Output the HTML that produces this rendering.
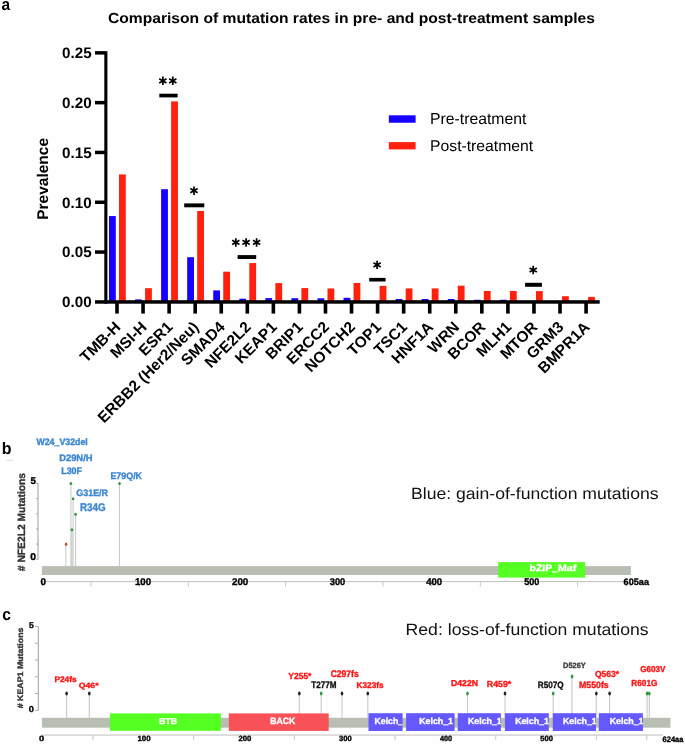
<!DOCTYPE html>
<html><head><meta charset="utf-8"><style>
html,body{margin:0;padding:0;background:#fefefe;}
svg{display:block;font-family:"Liberation Sans", sans-serif;will-change:transform;text-rendering:geometricPrecision;}
</style></head><body>
<svg width="685" height="744" viewBox="0 0 685 744">
<text x="1.57" y="9.90" font-size="16.74" font-weight="bold" fill="#000" textLength="8.63" lengthAdjust="spacingAndGlyphs" >a</text>
<text x="108" y="23.2" font-size="14.6" font-weight="bold" textLength="487" lengthAdjust="spacingAndGlyphs">Comparison of mutation rates in pre- and post-treatment samples</text>
<rect x="109.00" y="216.06" width="6.80" height="85.94" fill="#1700ff"/>
<rect x="119.00" y="174.45" width="6.80" height="127.55" fill="#ff200e"/>
<rect x="135.06" y="299.40" width="6.80" height="2.60" fill="#1700ff"/>
<rect x="145.06" y="288.20" width="6.80" height="13.80" fill="#ff200e"/>
<rect x="161.12" y="189.20" width="6.80" height="112.80" fill="#1700ff"/>
<rect x="171.12" y="101.40" width="6.80" height="200.60" fill="#ff200e"/>
<rect x="187.18" y="257.20" width="6.80" height="44.80" fill="#1700ff"/>
<rect x="197.18" y="211.00" width="6.80" height="91.00" fill="#ff200e"/>
<rect x="213.24" y="290.40" width="6.80" height="11.60" fill="#1700ff"/>
<rect x="223.24" y="271.70" width="6.80" height="30.30" fill="#ff200e"/>
<rect x="239.30" y="298.70" width="6.80" height="3.30" fill="#1700ff"/>
<rect x="249.30" y="263.05" width="6.80" height="38.95" fill="#ff200e"/>
<rect x="265.36" y="298.10" width="6.80" height="3.90" fill="#1700ff"/>
<rect x="275.36" y="283.10" width="6.80" height="18.90" fill="#ff200e"/>
<rect x="291.42" y="298.20" width="6.80" height="3.80" fill="#1700ff"/>
<rect x="301.42" y="288.10" width="6.80" height="13.90" fill="#ff200e"/>
<rect x="317.48" y="298.30" width="6.80" height="3.70" fill="#1700ff"/>
<rect x="327.48" y="288.50" width="6.80" height="13.50" fill="#ff200e"/>
<rect x="343.54" y="297.80" width="6.80" height="4.20" fill="#1700ff"/>
<rect x="353.54" y="283.00" width="6.80" height="19.00" fill="#ff200e"/>
<rect x="379.60" y="285.90" width="6.80" height="16.10" fill="#ff200e"/>
<rect x="395.66" y="299.00" width="6.80" height="3.00" fill="#1700ff"/>
<rect x="405.66" y="288.40" width="6.80" height="13.60" fill="#ff200e"/>
<rect x="421.72" y="299.00" width="6.80" height="3.00" fill="#1700ff"/>
<rect x="431.72" y="288.40" width="6.80" height="13.60" fill="#ff200e"/>
<rect x="447.78" y="299.00" width="6.80" height="3.00" fill="#1700ff"/>
<rect x="457.78" y="285.70" width="6.80" height="16.30" fill="#ff200e"/>
<rect x="473.84" y="299.80" width="6.80" height="2.20" fill="#1700ff"/>
<rect x="483.84" y="291.00" width="6.80" height="11.00" fill="#ff200e"/>
<rect x="499.90" y="299.80" width="6.80" height="2.20" fill="#1700ff"/>
<rect x="509.90" y="291.00" width="6.80" height="11.00" fill="#ff200e"/>
<rect x="535.96" y="291.10" width="6.80" height="10.90" fill="#ff200e"/>
<rect x="562.02" y="296.20" width="6.80" height="5.80" fill="#ff200e"/>
<rect x="588.08" y="296.90" width="6.80" height="5.10" fill="#ff200e"/>
<rect x="104.30" y="51.20" width="3.10" height="252.50" fill="#000"/>
<rect x="95.00" y="300.20" width="504.70" height="3.50" fill="#000"/>
<rect x="95.00" y="51.10" width="10.00" height="3.50" fill="#000"/>
<rect x="95.00" y="100.90" width="10.00" height="3.50" fill="#000"/>
<rect x="95.00" y="150.70" width="10.00" height="3.50" fill="#000"/>
<rect x="95.00" y="200.50" width="10.00" height="3.50" fill="#000"/>
<rect x="95.00" y="250.30" width="10.00" height="3.50" fill="#000"/>
<rect x="115.20" y="302.00" width="3.60" height="11.60" fill="#000"/>
<rect x="141.26" y="302.00" width="3.60" height="11.60" fill="#000"/>
<rect x="167.32" y="302.00" width="3.60" height="11.60" fill="#000"/>
<rect x="193.38" y="302.00" width="3.60" height="11.60" fill="#000"/>
<rect x="219.44" y="302.00" width="3.60" height="11.60" fill="#000"/>
<rect x="245.50" y="302.00" width="3.60" height="11.60" fill="#000"/>
<rect x="271.56" y="302.00" width="3.60" height="11.60" fill="#000"/>
<rect x="297.62" y="302.00" width="3.60" height="11.60" fill="#000"/>
<rect x="323.68" y="302.00" width="3.60" height="11.60" fill="#000"/>
<rect x="349.74" y="302.00" width="3.60" height="11.60" fill="#000"/>
<rect x="375.80" y="302.00" width="3.60" height="11.60" fill="#000"/>
<rect x="401.86" y="302.00" width="3.60" height="11.60" fill="#000"/>
<rect x="427.92" y="302.00" width="3.60" height="11.60" fill="#000"/>
<rect x="453.98" y="302.00" width="3.60" height="11.60" fill="#000"/>
<rect x="480.04" y="302.00" width="3.60" height="11.60" fill="#000"/>
<rect x="506.10" y="302.00" width="3.60" height="11.60" fill="#000"/>
<rect x="532.16" y="302.00" width="3.60" height="11.60" fill="#000"/>
<rect x="558.22" y="302.00" width="3.60" height="11.60" fill="#000"/>
<rect x="584.28" y="302.00" width="3.60" height="11.60" fill="#000"/>
<text x="91.60" y="58.25" font-size="15.2" font-weight="bold" fill="#000" text-anchor="end" >0.25</text>
<text x="91.60" y="108.05" font-size="15.2" font-weight="bold" fill="#000" text-anchor="end" >0.20</text>
<text x="91.60" y="157.85" font-size="15.2" font-weight="bold" fill="#000" text-anchor="end" >0.15</text>
<text x="91.60" y="207.65" font-size="15.2" font-weight="bold" fill="#000" text-anchor="end" >0.10</text>
<text x="91.60" y="257.45" font-size="15.2" font-weight="bold" fill="#000" text-anchor="end" >0.05</text>
<text x="91.60" y="307.25" font-size="15.2" font-weight="bold" fill="#000" text-anchor="end" >0.00</text>
<text x="0" y="0" font-size="15.5" font-weight="bold" text-anchor="middle" transform="translate(48.1 178.9) rotate(-90)">Prevalence</text>
<text x="0" y="0" font-size="15.5" font-weight="bold" text-anchor="end" transform="translate(121.50 328.00) rotate(-45)">TMB-H</text>
<text x="0" y="0" font-size="15.5" font-weight="bold" text-anchor="end" transform="translate(147.56 328.00) rotate(-45)">MSI-H</text>
<text x="0" y="0" font-size="15.5" font-weight="bold" text-anchor="end" transform="translate(173.62 328.00) rotate(-45)">ESR1</text>
<text x="0" y="0" font-size="15.5" font-weight="bold" text-anchor="end" transform="translate(199.68 328.00) rotate(-45)">ERBB2 (Her2/Neu)</text>
<text x="0" y="0" font-size="15.5" font-weight="bold" text-anchor="end" transform="translate(225.74 328.00) rotate(-45)">SMAD4</text>
<text x="0" y="0" font-size="15.5" font-weight="bold" text-anchor="end" transform="translate(251.80 328.00) rotate(-45)">NFE2L2</text>
<text x="0" y="0" font-size="15.5" font-weight="bold" text-anchor="end" transform="translate(277.86 328.00) rotate(-45)">KEAP1</text>
<text x="0" y="0" font-size="15.5" font-weight="bold" text-anchor="end" transform="translate(303.92 328.00) rotate(-45)">BRIP1</text>
<text x="0" y="0" font-size="15.5" font-weight="bold" text-anchor="end" transform="translate(329.98 328.00) rotate(-45)">ERCC2</text>
<text x="0" y="0" font-size="15.5" font-weight="bold" text-anchor="end" transform="translate(356.04 328.00) rotate(-45)">NOTCH2</text>
<text x="0" y="0" font-size="15.5" font-weight="bold" text-anchor="end" transform="translate(382.10 328.00) rotate(-45)">TOP1</text>
<text x="0" y="0" font-size="15.5" font-weight="bold" text-anchor="end" transform="translate(408.16 328.00) rotate(-45)">TSC1</text>
<text x="0" y="0" font-size="15.5" font-weight="bold" text-anchor="end" transform="translate(434.22 328.00) rotate(-45)">HNF1A</text>
<text x="0" y="0" font-size="15.5" font-weight="bold" text-anchor="end" transform="translate(460.28 328.00) rotate(-45)">WRN</text>
<text x="0" y="0" font-size="15.5" font-weight="bold" text-anchor="end" transform="translate(486.34 328.00) rotate(-45)">BCOR</text>
<text x="0" y="0" font-size="15.5" font-weight="bold" text-anchor="end" transform="translate(512.40 328.00) rotate(-45)">MLH1</text>
<text x="0" y="0" font-size="15.5" font-weight="bold" text-anchor="end" transform="translate(538.46 328.00) rotate(-45)">MTOR</text>
<text x="0" y="0" font-size="15.5" font-weight="bold" text-anchor="end" transform="translate(564.52 328.00) rotate(-45)">GRM3</text>
<text x="0" y="0" font-size="15.5" font-weight="bold" text-anchor="end" transform="translate(590.58 328.00) rotate(-45)">BMPR1A</text>
<rect x="159.30" y="93.70" width="18.30" height="3.70" fill="#000"/>
<path d="M162.85 85.00L162.85 76.60M159.21 82.90L166.49 78.70M159.21 78.70L166.49 82.90" stroke="#000" stroke-width="1.7" fill="none"/>
<path d="M172.80 85.00L172.80 76.60M169.16 82.90L176.44 78.70M169.16 78.70L176.44 82.90" stroke="#000" stroke-width="1.7" fill="none"/>
<rect x="184.20" y="203.40" width="20.10" height="3.90" fill="#000"/>
<path d="M194.00 194.90L194.00 186.50M190.36 192.80L197.64 188.60M190.36 188.60L197.64 192.80" stroke="#000" stroke-width="1.7" fill="none"/>
<rect x="237.60" y="255.10" width="18.60" height="3.90" fill="#000"/>
<path d="M235.80 246.65L235.80 238.25M232.16 244.55L239.44 240.35M232.16 240.35L239.44 244.55" stroke="#000" stroke-width="1.7" fill="none"/>
<path d="M246.10 246.65L246.10 238.25M242.46 244.55L249.74 240.35M242.46 240.35L249.74 244.55" stroke="#000" stroke-width="1.7" fill="none"/>
<path d="M256.60 246.65L256.60 238.25M252.96 244.55L260.24 240.35M252.96 240.35L260.24 244.55" stroke="#000" stroke-width="1.7" fill="none"/>
<rect x="369.20" y="277.90" width="16.40" height="3.60" fill="#000"/>
<path d="M377.10 269.10L377.10 260.70M373.46 267.00L380.74 262.80M373.46 262.80L380.74 267.00" stroke="#000" stroke-width="1.7" fill="none"/>
<rect x="525.10" y="282.80" width="16.80" height="4.00" fill="#000"/>
<path d="M533.20 274.20L533.20 265.80M529.56 272.10L536.84 267.90M529.56 267.90L536.84 272.10" stroke="#000" stroke-width="1.7" fill="none"/>
<rect x="388.85" y="115.30" width="26.75" height="7.45" fill="#1700ff"/>
<rect x="388.85" y="142.10" width="26.75" height="7.30" fill="#ff200e"/>
<text x="430.04" y="124.30" font-size="15.85" font-weight="normal" fill="#000" textLength="96.25" lengthAdjust="spacingAndGlyphs" >Pre-treatment</text>
<text x="430.04" y="150.90" font-size="15.56" font-weight="normal" fill="#000" textLength="103.15" lengthAdjust="spacingAndGlyphs" >Post-treatment</text>
<rect x="6" y="459.9" width="7" height="1" fill="#e2e2e2"/>
<text x="1.81" y="454.05" font-size="16.62" font-weight="bold" fill="#000" textLength="9.80" lengthAdjust="spacingAndGlyphs" >b</text>
<rect x="37.5" y="483.0" width="1" height="76.7" fill="#a0a0a0"/>
<rect x="36.0" y="558.75" width="2" height="0.9" fill="#a0a0a0"/>
<rect x="36.0" y="543.61" width="2" height="0.9" fill="#a0a0a0"/>
<rect x="36.0" y="528.47" width="2" height="0.9" fill="#a0a0a0"/>
<rect x="36.0" y="513.33" width="2" height="0.9" fill="#a0a0a0"/>
<rect x="36.0" y="498.19" width="2" height="0.9" fill="#a0a0a0"/>
<rect x="36.0" y="483.05" width="2" height="0.9" fill="#a0a0a0"/>
<text x="30.55" y="483.80" font-size="9.89" font-weight="bold" fill="#000" textLength="5.36" lengthAdjust="spacingAndGlyphs" stroke="#000" stroke-width="0.35" stroke-linejoin="round" >5</text>
<text x="30.31" y="559.80" font-size="9.89" font-weight="bold" fill="#000" textLength="5.75" lengthAdjust="spacingAndGlyphs" stroke="#000" stroke-width="0.35" stroke-linejoin="round" >0</text>
<text x="0" y="0" font-size="10.47" font-weight="bold" fill="#333" textLength="98.16" lengthAdjust="spacingAndGlyphs" stroke="#333" stroke-width="0.35" stroke-linejoin="round" transform="translate(25.10 571.15) rotate(-90)"># NFE2L2 Mutations</text>
<rect x="65.30" y="544.20" width="1.0" height="21.90" fill="#a4a99f" fill-opacity="0.6"/>
<rect x="70.40" y="483.40" width="1.0" height="82.70" fill="#a4a99f" fill-opacity="0.6"/>
<rect x="72.60" y="498.80" width="1.0" height="67.30" fill="#a4a99f" fill-opacity="0.6"/>
<rect x="75.10" y="514.30" width="1.0" height="51.80" fill="#a4a99f" fill-opacity="0.6"/>
<rect x="71.40" y="529.70" width="1.0" height="36.40" fill="#a4a99f" fill-opacity="0.6"/>
<rect x="119.00" y="483.40" width="1.0" height="82.70" fill="#a4a99f" fill-opacity="0.6"/>
<ellipse cx="66.10" cy="544.20" rx="1.2" ry="1.8" fill="#c0522a"/>
<ellipse cx="70.90" cy="483.40" rx="1.35" ry="1.5" fill="#2f9a3a"/>
<ellipse cx="73.10" cy="498.80" rx="1.35" ry="1.5" fill="#2f9a3a"/>
<ellipse cx="75.60" cy="514.30" rx="1.35" ry="1.5" fill="#2f9a3a"/>
<ellipse cx="71.90" cy="529.70" rx="1.35" ry="1.5" fill="#2f9a3a"/>
<ellipse cx="119.50" cy="483.40" rx="1.35" ry="1.5" fill="#2f9a3a"/>
<rect x="41.90" y="566.10" width="589.00" height="8.90" fill="#b9beb3"/>
<rect x="498.20" y="562.10" width="86.90" height="15.50" fill="#55ff22"/>
<text x="529.52" y="570.70" font-size="9.10" font-weight="bold" fill="#fff" textLength="46.66" lengthAdjust="spacingAndGlyphs" stroke="#fff" stroke-width="0.35" stroke-linejoin="round" >bZIP_Maf</text>
<rect x="42.3" y="581.0" width="581.5" height="1.1" fill="#c4c4c4"/>
<rect x="41.85" y="582" width="0.9" height="4.6" fill="#c4c4c4"/>
<rect x="90.52" y="582" width="0.9" height="4.6" fill="#c4c4c4"/>
<rect x="139.18" y="582" width="0.9" height="4.6" fill="#c4c4c4"/>
<rect x="187.85" y="582" width="0.9" height="4.6" fill="#c4c4c4"/>
<rect x="236.51" y="582" width="0.9" height="4.6" fill="#c4c4c4"/>
<rect x="285.18" y="582" width="0.9" height="4.6" fill="#c4c4c4"/>
<rect x="333.84" y="582" width="0.9" height="4.6" fill="#c4c4c4"/>
<rect x="382.51" y="582" width="0.9" height="4.6" fill="#c4c4c4"/>
<rect x="431.17" y="582" width="0.9" height="4.6" fill="#c4c4c4"/>
<rect x="479.84" y="582" width="0.9" height="4.6" fill="#c4c4c4"/>
<rect x="528.50" y="582" width="0.9" height="4.6" fill="#c4c4c4"/>
<rect x="577.16" y="582" width="0.9" height="4.6" fill="#c4c4c4"/>
<rect x="625.83" y="582" width="0.9" height="4.6" fill="#c4c4c4"/>
<rect x="630.15" y="582" width="0.9" height="4.6" fill="#c4c4c4"/>
<text x="40.43" y="584.90" font-size="9.75" font-weight="bold" fill="#000" textLength="5.45" lengthAdjust="spacingAndGlyphs" stroke="#000" stroke-width="0.35" stroke-linejoin="round" >0</text>
<text x="134.89" y="584.90" font-size="9.75" font-weight="bold" fill="#000" textLength="16.18" lengthAdjust="spacingAndGlyphs" stroke="#000" stroke-width="0.35" stroke-linejoin="round" >100</text>
<text x="231.98" y="584.90" font-size="9.75" font-weight="bold" fill="#000" textLength="16.29" lengthAdjust="spacingAndGlyphs" stroke="#000" stroke-width="0.35" stroke-linejoin="round" >200</text>
<text x="329.79" y="584.90" font-size="9.75" font-weight="bold" fill="#000" textLength="15.47" lengthAdjust="spacingAndGlyphs" stroke="#000" stroke-width="0.35" stroke-linejoin="round" >300</text>
<text x="426.16" y="584.90" font-size="9.75" font-weight="bold" fill="#000" textLength="15.91" lengthAdjust="spacingAndGlyphs" stroke="#000" stroke-width="0.35" stroke-linejoin="round" >400</text>
<text x="524.13" y="584.90" font-size="9.75" font-weight="bold" fill="#000" textLength="15.12" lengthAdjust="spacingAndGlyphs" stroke="#000" stroke-width="0.35" stroke-linejoin="round" >500</text>
<text x="623.58" y="584.90" font-size="9.46" font-weight="bold" fill="#000" textLength="25.46" lengthAdjust="spacingAndGlyphs" stroke="#000" stroke-width="0.35" stroke-linejoin="round" >605aa</text>
<text x="36.40" y="444.60" font-size="9.31" font-weight="bold" fill="#3a86d2" textLength="51.41" lengthAdjust="spacingAndGlyphs" stroke="#3a86d2" stroke-width="0.35" stroke-linejoin="round" >W24_V32del</text>
<text x="59.19" y="460.90" font-size="9.31" font-weight="bold" fill="#3a86d2" textLength="33.33" lengthAdjust="spacingAndGlyphs" stroke="#3a86d2" stroke-width="0.35" stroke-linejoin="round" >D29N/H</text>
<text x="61.22" y="473.60" font-size="9.45" font-weight="bold" fill="#3a86d2" textLength="20.81" lengthAdjust="spacingAndGlyphs" stroke="#3a86d2" stroke-width="0.35" stroke-linejoin="round" >L30F</text>
<text x="110.42" y="479.10" font-size="9.45" font-weight="bold" fill="#3a86d2" textLength="31.64" lengthAdjust="spacingAndGlyphs" stroke="#3a86d2" stroke-width="0.35" stroke-linejoin="round" >E79Q/K</text>
<text x="76.24" y="496.40" font-size="9.31" font-weight="bold" fill="#3a86d2" textLength="31.83" lengthAdjust="spacingAndGlyphs" stroke="#3a86d2" stroke-width="0.35" stroke-linejoin="round" >G31E/R</text>
<text x="79.96" y="511.10" font-size="11.20" font-weight="bold" fill="#3a86d2" textLength="25.73" lengthAdjust="spacingAndGlyphs" stroke="#3a86d2" stroke-width="0.35" stroke-linejoin="round" >R34G</text>
<text x="410.99" y="498.90" font-size="16.28" font-weight="normal" fill="#111" textLength="247.71" lengthAdjust="spacingAndGlyphs" >Blue: gain-of-function mutations</text>
<text x="2.26" y="619.50" font-size="16.74" font-weight="bold" fill="#000" textLength="8.68" lengthAdjust="spacingAndGlyphs" >c</text>
<rect x="37.8" y="626.1" width="1" height="84.7" fill="#a0a0a0"/>
<rect x="35.1" y="709.85" width="2.7" height="0.9" fill="#a0a0a0"/>
<rect x="35.1" y="693.09" width="2.7" height="0.9" fill="#a0a0a0"/>
<rect x="35.1" y="676.33" width="2.7" height="0.9" fill="#a0a0a0"/>
<rect x="35.1" y="659.57" width="2.7" height="0.9" fill="#a0a0a0"/>
<rect x="35.1" y="642.81" width="2.7" height="0.9" fill="#a0a0a0"/>
<rect x="35.1" y="626.05" width="2.7" height="0.9" fill="#a0a0a0"/>
<text x="28.94" y="627.80" font-size="8.46" font-weight="bold" fill="#000" textLength="4.78" lengthAdjust="spacingAndGlyphs" stroke="#000" stroke-width="0.35" stroke-linejoin="round" >5</text>
<text x="28.76" y="711.80" font-size="8.60" font-weight="bold" fill="#000" textLength="5.10" lengthAdjust="spacingAndGlyphs" stroke="#000" stroke-width="0.35" stroke-linejoin="round" >0</text>
<text x="0" y="0" font-size="8.00" font-weight="bold" fill="#333" textLength="80.67" lengthAdjust="spacingAndGlyphs" stroke="#333" stroke-width="0.35" stroke-linejoin="round" transform="translate(22.90 708.23) rotate(-90)"># KEAP1 Mutations</text>
<rect x="66.05" y="693.2" width="1.1" height="24.60" fill="#c9ccc5"/>
<rect x="88.75" y="693.2" width="1.1" height="24.60" fill="#c9ccc5"/>
<rect x="298.75" y="693.2" width="1.1" height="24.60" fill="#c9ccc5"/>
<rect x="320.65" y="693.2" width="1.1" height="24.60" fill="#c9ccc5"/>
<rect x="341.45" y="693.2" width="1.1" height="24.60" fill="#c9ccc5"/>
<rect x="367.25" y="693.2" width="1.1" height="24.60" fill="#c9ccc5"/>
<rect x="466.95" y="693.2" width="1.1" height="24.60" fill="#c9ccc5"/>
<rect x="504.45" y="693.2" width="1.1" height="24.60" fill="#c9ccc5"/>
<rect x="552.65" y="693.2" width="1.1" height="24.60" fill="#c9ccc5"/>
<rect x="595.75" y="693.2" width="1.1" height="24.60" fill="#c9ccc5"/>
<rect x="609.05" y="693.2" width="1.1" height="24.60" fill="#c9ccc5"/>
<rect x="646.55" y="693.2" width="1.1" height="24.60" fill="#c9ccc5"/>
<rect x="648.75" y="693.2" width="1.1" height="24.60" fill="#c9ccc5"/>
<rect x="571.35" y="676.2" width="1.1" height="41.60" fill="#c9ccc5"/>
<ellipse cx="66.60" cy="693.6" rx="1.3" ry="2.0" fill="#222"/>
<ellipse cx="89.30" cy="693.6" rx="1.3" ry="2.0" fill="#222"/>
<ellipse cx="299.30" cy="693.6" rx="1.3" ry="2.0" fill="#222"/>
<ellipse cx="321.20" cy="693.6" rx="1.3" ry="2.0" fill="#2f9a3a"/>
<ellipse cx="342.00" cy="693.6" rx="1.3" ry="2.0" fill="#222"/>
<ellipse cx="367.80" cy="693.6" rx="1.3" ry="2.0" fill="#222"/>
<ellipse cx="467.50" cy="693.6" rx="1.3" ry="2.0" fill="#2f9a3a"/>
<ellipse cx="505.00" cy="693.6" rx="1.3" ry="2.0" fill="#222"/>
<ellipse cx="553.20" cy="693.6" rx="1.3" ry="2.0" fill="#2f9a3a"/>
<ellipse cx="596.30" cy="693.6" rx="1.3" ry="2.0" fill="#222"/>
<ellipse cx="609.60" cy="693.6" rx="1.3" ry="2.0" fill="#222"/>
<ellipse cx="647.10" cy="693.6" rx="1.3" ry="2.0" fill="#2f9a3a"/>
<ellipse cx="649.30" cy="693.6" rx="1.3" ry="2.0" fill="#2f9a3a"/>
<ellipse cx="572.1" cy="676.4" rx="1.3" ry="2.0" fill="#2f9a3a"/>
<rect x="42.00" y="717.80" width="628.40" height="9.90" fill="#b9beb3"/>
<rect x="109.90" y="713.40" width="111.00" height="17.40" fill="#55ff22"/>
<text x="159.02" y="724.10" font-size="8.44" font-weight="bold" fill="#fff" textLength="18.28" lengthAdjust="spacingAndGlyphs" stroke="#fff" stroke-width="0.35" stroke-linejoin="round" >BTB</text>
<rect x="228.80" y="713.40" width="99.90" height="17.50" fill="#f85258"/>
<text x="270.23" y="724.40" font-size="9.16" font-weight="bold" fill="#fff" textLength="25.12" lengthAdjust="spacingAndGlyphs" stroke="#fff" stroke-width="0.35" stroke-linejoin="round" >BACK</text>
<rect x="368.50" y="713.20" width="34.10" height="17.80" fill="#6658ff"/>
<clipPath id="k0"><rect x="368.5" y="713" width="34.10000000000002" height="18"/></clipPath>
<text x="374.43" y="724.40" font-size="8.87" font-weight="bold" fill="#fff" textLength="33.70" lengthAdjust="spacingAndGlyphs" stroke="#fff" stroke-width="0.35" stroke-linejoin="round" clip-path="url(#k0)">Kelch_1</text>
<rect x="406.10" y="713.20" width="48.50" height="17.80" fill="#6658ff"/>
<clipPath id="k1"><rect x="406.1" y="713" width="48.5" height="18"/></clipPath>
<text x="419.23" y="724.40" font-size="8.87" font-weight="bold" fill="#fff" textLength="33.70" lengthAdjust="spacingAndGlyphs" stroke="#fff" stroke-width="0.35" stroke-linejoin="round" clip-path="url(#k1)">Kelch_1</text>
<rect x="457.70" y="713.20" width="43.20" height="17.80" fill="#6658ff"/>
<clipPath id="k2"><rect x="457.7" y="713" width="43.19999999999999" height="18"/></clipPath>
<text x="468.03" y="724.40" font-size="8.87" font-weight="bold" fill="#fff" textLength="33.70" lengthAdjust="spacingAndGlyphs" stroke="#fff" stroke-width="0.35" stroke-linejoin="round" clip-path="url(#k2)">Kelch_1</text>
<rect x="504.90" y="713.20" width="43.90" height="17.80" fill="#6658ff"/>
<clipPath id="k3"><rect x="504.9" y="713" width="43.89999999999998" height="18"/></clipPath>
<text x="515.13" y="724.40" font-size="8.87" font-weight="bold" fill="#fff" textLength="33.70" lengthAdjust="spacingAndGlyphs" stroke="#fff" stroke-width="0.35" stroke-linejoin="round" clip-path="url(#k3)">Kelch_1</text>
<rect x="552.80" y="713.20" width="43.20" height="17.80" fill="#6658ff"/>
<clipPath id="k4"><rect x="552.8" y="713" width="43.200000000000045" height="18"/></clipPath>
<text x="563.03" y="724.40" font-size="8.87" font-weight="bold" fill="#fff" textLength="33.70" lengthAdjust="spacingAndGlyphs" stroke="#fff" stroke-width="0.35" stroke-linejoin="round" clip-path="url(#k4)">Kelch_1</text>
<rect x="598.80" y="713.20" width="44.10" height="17.80" fill="#6658ff"/>
<clipPath id="k5"><rect x="598.8" y="713" width="44.10000000000002" height="18"/></clipPath>
<text x="609.73" y="724.40" font-size="8.87" font-weight="bold" fill="#fff" textLength="33.70" lengthAdjust="spacingAndGlyphs" stroke="#fff" stroke-width="0.35" stroke-linejoin="round" clip-path="url(#k5)">Kelch_1</text>
<rect x="42.3" y="734.5" width="620.5" height="1.1" fill="#c4c4c4"/>
<rect x="42.15" y="735.4" width="0.9" height="4.6" fill="#c4c4c4"/>
<rect x="92.50" y="735.4" width="0.9" height="4.6" fill="#c4c4c4"/>
<rect x="142.85" y="735.4" width="0.9" height="4.6" fill="#c4c4c4"/>
<rect x="193.20" y="735.4" width="0.9" height="4.6" fill="#c4c4c4"/>
<rect x="243.55" y="735.4" width="0.9" height="4.6" fill="#c4c4c4"/>
<rect x="293.90" y="735.4" width="0.9" height="4.6" fill="#c4c4c4"/>
<rect x="344.25" y="735.4" width="0.9" height="4.6" fill="#c4c4c4"/>
<rect x="394.60" y="735.4" width="0.9" height="4.6" fill="#c4c4c4"/>
<rect x="444.95" y="735.4" width="0.9" height="4.6" fill="#c4c4c4"/>
<rect x="495.30" y="735.4" width="0.9" height="4.6" fill="#c4c4c4"/>
<rect x="545.65" y="735.4" width="0.9" height="4.6" fill="#c4c4c4"/>
<rect x="596.00" y="735.4" width="0.9" height="4.6" fill="#c4c4c4"/>
<rect x="646.35" y="735.4" width="0.9" height="4.6" fill="#c4c4c4"/>
<text x="39.06" y="741.40" font-size="7.46" font-weight="bold" fill="#000" textLength="5.10" lengthAdjust="spacingAndGlyphs" stroke="#000" stroke-width="0.35" stroke-linejoin="round" >0</text>
<text x="137.51" y="741.40" font-size="7.46" font-weight="bold" fill="#000" textLength="13.09" lengthAdjust="spacingAndGlyphs" stroke="#000" stroke-width="0.35" stroke-linejoin="round" >100</text>
<text x="238.55" y="741.40" font-size="7.46" font-weight="bold" fill="#000" textLength="12.85" lengthAdjust="spacingAndGlyphs" stroke="#000" stroke-width="0.35" stroke-linejoin="round" >200</text>
<text x="339.03" y="741.40" font-size="7.46" font-weight="bold" fill="#000" textLength="12.66" lengthAdjust="spacingAndGlyphs" stroke="#000" stroke-width="0.35" stroke-linejoin="round" >300</text>
<text x="439.89" y="741.40" font-size="7.46" font-weight="bold" fill="#000" textLength="12.09" lengthAdjust="spacingAndGlyphs" stroke="#000" stroke-width="0.35" stroke-linejoin="round" >400</text>
<text x="540.37" y="741.40" font-size="7.46" font-weight="bold" fill="#000" textLength="12.72" lengthAdjust="spacingAndGlyphs" stroke="#000" stroke-width="0.35" stroke-linejoin="round" >500</text>
<text x="662.54" y="741.50" font-size="7.89" font-weight="bold" fill="#000" textLength="20.91" lengthAdjust="spacingAndGlyphs" stroke="#000" stroke-width="0.35" stroke-linejoin="round" >624aa</text>
<text x="54.46" y="681.60" font-size="8.15" font-weight="bold" fill="#ff1212" textLength="22.16" lengthAdjust="spacingAndGlyphs" stroke="#ff1212" stroke-width="0.35" stroke-linejoin="round" >P24fs</text>
<text x="78.75" y="688.10" font-size="7.56" font-weight="bold" fill="#ff1212" textLength="19.84" lengthAdjust="spacingAndGlyphs" stroke="#ff1212" stroke-width="0.35" stroke-linejoin="round" >Q46*</text>
<text x="288.37" y="678.60" font-size="8.87" font-weight="bold" fill="#ff1212" textLength="23.02" lengthAdjust="spacingAndGlyphs" stroke="#ff1212" stroke-width="0.35" stroke-linejoin="round" >Y255*</text>
<text x="311.32" y="688.20" font-size="9.45" font-weight="bold" fill="#111" textLength="25.10" lengthAdjust="spacingAndGlyphs" stroke="#111" stroke-width="0.35" stroke-linejoin="round" >T277M</text>
<text x="330.66" y="677.00" font-size="9.60" font-weight="bold" fill="#ff1212" textLength="28.08" lengthAdjust="spacingAndGlyphs" stroke="#ff1212" stroke-width="0.35" stroke-linejoin="round" >C297fs</text>
<text x="356.57" y="687.70" font-size="8.44" font-weight="bold" fill="#ff1212" textLength="26.96" lengthAdjust="spacingAndGlyphs" stroke="#ff1212" stroke-width="0.35" stroke-linejoin="round" >K323fs</text>
<text x="450.94" y="686.10" font-size="8.58" font-weight="bold" fill="#ff1212" textLength="27.05" lengthAdjust="spacingAndGlyphs" stroke="#ff1212" stroke-width="0.35" stroke-linejoin="round" >D422N</text>
<text x="486.83" y="687.40" font-size="8.87" font-weight="bold" fill="#ff1212" textLength="24.37" lengthAdjust="spacingAndGlyphs" stroke="#ff1212" stroke-width="0.35" stroke-linejoin="round" >R459*</text>
<text x="537.77" y="688.30" font-size="9.16" font-weight="bold" fill="#111" textLength="25.87" lengthAdjust="spacingAndGlyphs" stroke="#111" stroke-width="0.35" stroke-linejoin="round" >R507Q</text>
<text x="563.02" y="667.90" font-size="7.71" font-weight="bold" fill="#3c3c3c" textLength="22.70" lengthAdjust="spacingAndGlyphs" stroke="#3c3c3c" stroke-width="0.35" stroke-linejoin="round" >D526Y</text>
<text x="579.03" y="687.90" font-size="9.16" font-weight="bold" fill="#ff1212" textLength="29.70" lengthAdjust="spacingAndGlyphs" stroke="#ff1212" stroke-width="0.35" stroke-linejoin="round" >M550fs</text>
<text x="594.96" y="676.80" font-size="8.87" font-weight="bold" fill="#ff1212" textLength="24.12" lengthAdjust="spacingAndGlyphs" stroke="#ff1212" stroke-width="0.35" stroke-linejoin="round" >Q563*</text>
<text x="640.17" y="671.70" font-size="8.58" font-weight="bold" fill="#ff1212" textLength="25.35" lengthAdjust="spacingAndGlyphs" stroke="#ff1212" stroke-width="0.35" stroke-linejoin="round" >G603V</text>
<text x="631.26" y="686.00" font-size="8.87" font-weight="bold" fill="#ff1212" textLength="26.14" lengthAdjust="spacingAndGlyphs" stroke="#ff1212" stroke-width="0.35" stroke-linejoin="round" >R601G</text>
<text x="405.59" y="634.80" font-size="16.41" font-weight="normal" fill="#111" textLength="243.02" lengthAdjust="spacingAndGlyphs" >Red: loss-of-function mutations</text>
</svg>
</body></html>
